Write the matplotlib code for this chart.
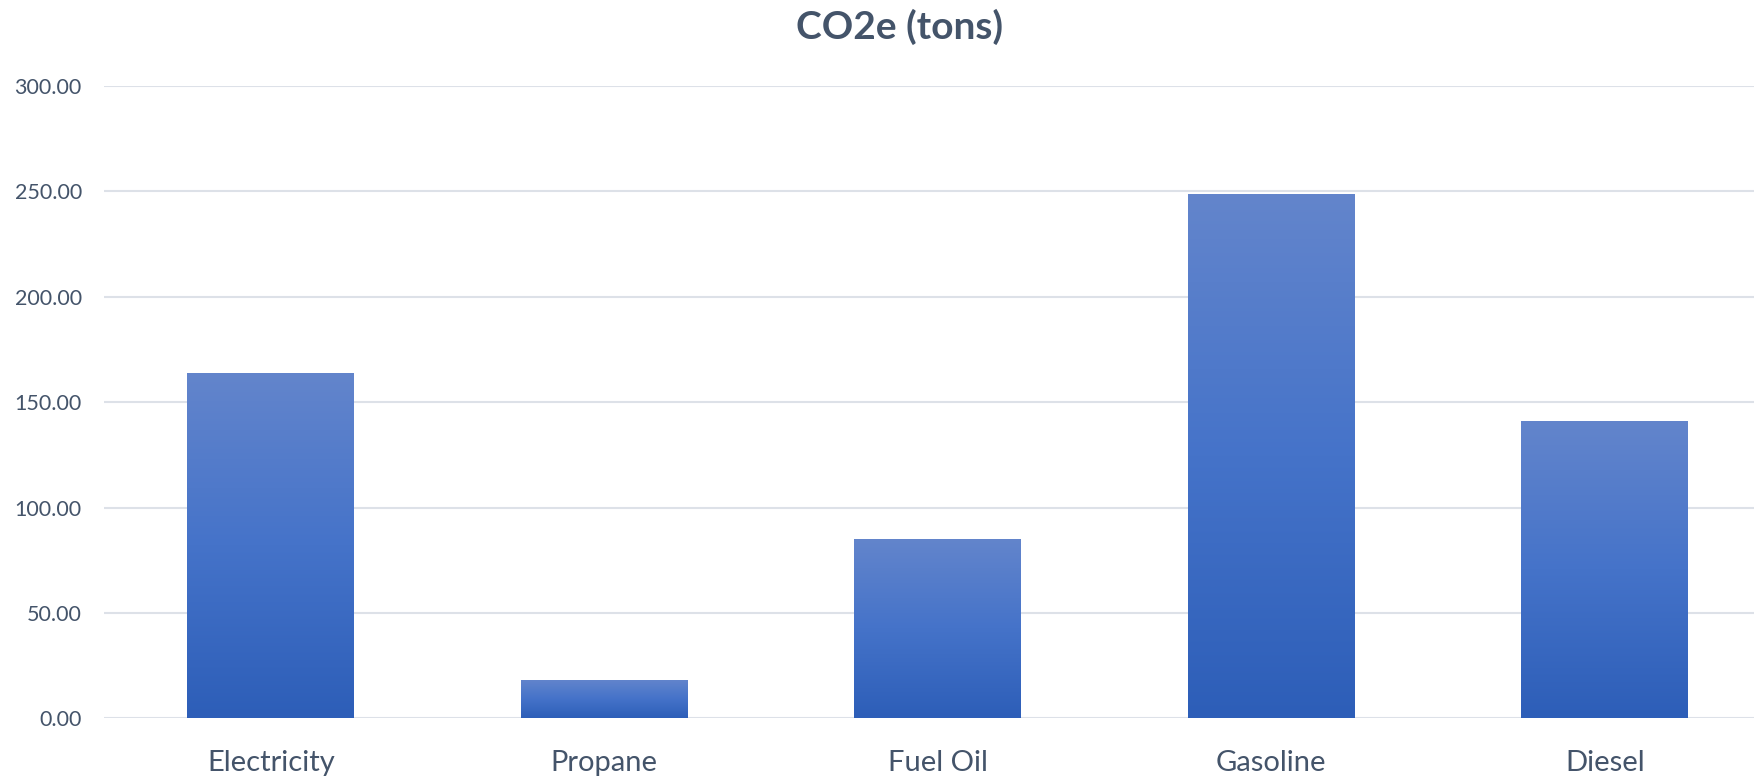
import numpy as np
import matplotlib
matplotlib.use("Agg")
import matplotlib.pyplot as plt
from matplotlib.colors import LinearSegmentedColormap

# Emission totals by fuel source
categories = ["Electricity", "Propane", "Fuel Oil", "Gasoline", "Diesel"]
co2e_tons = [163.8, 18.2, 85.1, 248.6, 141.1]
y_ticks = [0, 50, 100, 150, 200, 250, 300]
title = "CO2e (tons)"

TEXT = "#44546A"
GRID = "#DDE1E8"
plt.rcParams["font.family"] = ["Lato", "DejaVu Sans"]

fig = plt.figure(figsize=(17.54, 7.77), dpi=100)
ax = fig.add_axes([104 / 1754, 58.7 / 777, 1650 / 1754, 632.3 / 777])

# vertical gradient: lighter at the top of each bar, deeper blue at the base
grad_cmap = LinearSegmentedColormap.from_list(
    "bar_grad", ["#2D5EB8", "#4573C9", "#6385CC"])
grad = np.linspace(0, 1, 256).reshape(-1, 1)

x = np.arange(len(categories))
width = 0.5
bars = ax.bar(x, co2e_tons, width=width, color="none", edgecolor="none", zorder=3)
for rect, val in zip(bars, co2e_tons):
    x0 = rect.get_x()
    im = ax.imshow(grad, cmap=grad_cmap, origin="lower", aspect="auto",
                   extent=[x0, x0 + rect.get_width(), 0, val], zorder=3,
                   interpolation="bilinear")
    im.set_clip_path(rect)

ax.set_xlim(-0.5, -0.5 + 1650 / 333.5)
ax.set_ylim(0, 300)
ax.set_yticks(y_ticks)
ax.set_yticklabels([f"{v:.2f}" for v in y_ticks])
ax.set_xticks(x)
ax.set_xticklabels(categories)

ax.grid(axis="y", color=GRID, linewidth=1.5, zorder=0)
ax.set_axisbelow(True)
for s in ax.spines.values():
    s.set_visible(False)
ax.tick_params(axis="y", length=0, pad=16, labelsize=15.5, labelcolor=TEXT)
ax.tick_params(axis="x", length=0, pad=23, labelsize=21, labelcolor=TEXT)

fig.text(900 / 1754, 1 - 39 / 777, title, ha="center", va="baseline",
         fontsize=28, fontweight="bold", color=TEXT)

fig.savefig("out.png", dpi=100, facecolor="white")
